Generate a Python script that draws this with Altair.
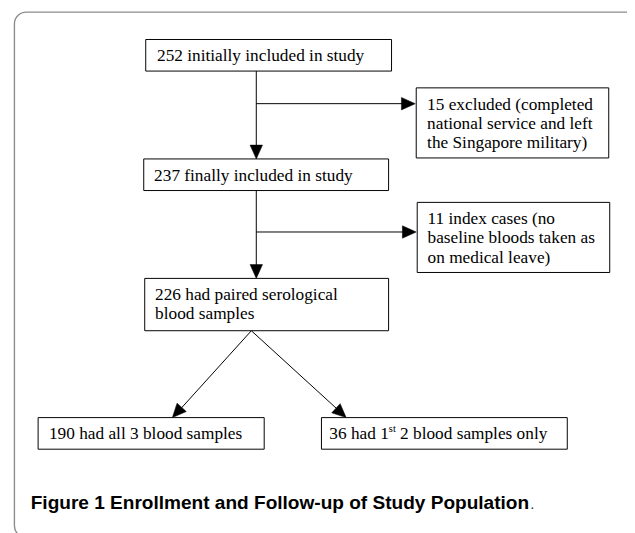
import altair as alt
import pandas as pd

# ---------------- content ----------------
box_lines = [
    ["252 initially included in study"],
    ["15 excluded (completed", "national service and left", "the Singapore military)"],
    ["237 finally included in study"],
    ["11 index cases (no", "baseline bloods taken as", "on medical leave)"],
    ["226 had paired serological", "blood samples"],
    ["190 had all 3 blood samples"],
]
last_box_parts = ["36 had 1", "st", "2 blood samples only"]
caption_bold = "Figure 1 Enrollment and Follow-up of Study Population"
caption_end = "."

# ---------------- layout (page pixels) ----------------
box_left = [147, 421, 145, 422, 146, 38, 325]
box_right = [396, 616, 393, 617, 393, 267, 574]
box_top = [36, 85, 157, 201, 278, 419, 419]
box_bottom = [68, 156, 189, 272, 331, 451, 451]
text_pad = [12, 11.5, 11, 11, 11, 11.5, 8.5]
first_baseline = 22.5
line_step = 19.5

# connectors: (x1, y1, x2, y2)
seg_x1 = [259, 259, 259, 259, 254, 254]
seg_y1 = [68, 101, 189, 231, 331, 331]
seg_x2 = [259, 414, 259, 415, 178, 346]
seg_y2 = [152, 101, 273, 231, 415, 415]
# arrow heads: tip and direction (degrees, clockwise from +x)
tip_x = [259, 420, 259, 421, 174, 350]
tip_y = [157, 101, 278, 231, 419, 419]
tip_angle = [90, 0, 90, 0, 132.3, 42.5]

serif = "Liberation Serif, Times New Roman, Times, serif"
fs = 17.5
sup_fs = 10.5
w_part1 = 3.444 * fs          # advance of "36 had 1"
w_sup = 0.667 * sup_fs        # advance of "st"
w_space = 0.25 * fs

# ---------------- tables ----------------
frame_df = pd.DataFrame({"x": [14.5], "x2": [700], "y": [8.8], "y2": [541]})
box_df = pd.DataFrame({
    "x": [v + 0.5 for v in box_left], "x2": [v + 0.5 for v in box_right],
    "y": [v + 0.5 for v in box_top], "y2": [v + 0.5 for v in box_bottom],
})
seg_df = pd.DataFrame({
    "x": [v + 0.5 for v in seg_x1], "y": [v + 0.5 for v in seg_y1],
    "x2": [v + 0.5 for v in seg_x2], "y2": [v + 0.5 for v in seg_y2],
})
tip_df = pd.DataFrame({"x": [v + 0.5 for v in tip_x], "y": [v + 0.5 for v in tip_y],
                       "angle": tip_angle})

rows = []
for i, lines in enumerate(box_lines):
    for j, t in enumerate(lines):
        rows.append({"x": box_left[i] + text_pad[i],
                     "y": box_top[i] + first_baseline + j * line_step,
                     "text": t})
k = len(box_lines)
base_y = box_top[k] + first_baseline
x0 = box_left[k] + text_pad[k]
rows.append({"x": x0, "y": base_y, "text": last_box_parts[0]})
rows.append({"x": x0 + w_part1 + w_sup + w_space, "y": base_y, "text": last_box_parts[2]})
text_df = pd.DataFrame(rows)
sup_df = pd.DataFrame({"x": [x0 + w_part1], "y": [base_y - 7], "text": [last_box_parts[1]]})

cap_df = pd.DataFrame({"x": [31], "y": [512], "text": [caption_bold]})
dot_df = pd.DataFrame({"x": [537], "y": [512], "text": [caption_end]})

# ---------------- scales ----------------
xs = alt.Scale(domain=[8, 635], nice=False, zero=False)
ys = alt.Scale(domain=[533, 8], nice=False, zero=False)
X = lambda f="x": alt.X(f + ":Q", scale=xs, axis=None)
Y = lambda f="y": alt.Y(f + ":Q", scale=ys, axis=None)

frame = alt.Chart(frame_df).mark_rect(
    fillOpacity=0, stroke="#8c8c8c", strokeWidth=1.4, cornerRadius=12
).encode(x=X(), x2="x2:Q", y=Y(), y2="y2:Q")

boxes = alt.Chart(box_df).mark_rect(
    fill="white", stroke="black", strokeWidth=1
).encode(x=X(), x2="x2:Q", y=Y(), y2="y2:Q")

segs = alt.Chart(seg_df).mark_rule(color="black", strokeWidth=1).encode(
    x=X(), y=Y(), x2="x2:Q", y2="y2:Q")

arrow_path = "M0,0L-2,-0.9L-2,0.9Z"
heads = alt.Chart(tip_df).mark_point(
    shape=arrow_path, filled=True, fill="black", stroke="black", strokeWidth=0.5,
    opacity=1, size=196
).encode(x=X(), y=Y(), angle=alt.Angle("angle:Q", scale=None))

texts = alt.Chart(text_df).mark_text(
    align="left", baseline="alphabetic", font=serif, fontSize=fs, color="black"
).encode(x=X(), y=Y(), text="text:N")

sup = alt.Chart(sup_df).mark_text(
    align="left", baseline="alphabetic", font=serif, fontSize=sup_fs, color="black"
).encode(x=X(), y=Y(), text="text:N")

cap = alt.Chart(cap_df).mark_text(
    align="left", baseline="alphabetic", font="Liberation Sans", fontSize=19.3,
    fontWeight="bold", color="black"
).encode(x=X(), y=Y(), text="text:N")

dot = alt.Chart(dot_df).mark_text(
    align="left", baseline="alphabetic", font="Liberation Sans", fontSize=15,
    color="#333333"
).encode(x=X(), y=Y(), text="text:N")

chart = alt.layer(frame, segs, heads, boxes, texts, sup, cap, dot).properties(
    width=627, height=525, padding=0, autosize=alt.AutoSizeParams(type="none"),
    background="white"
).configure_view(stroke=None)

chart.save("out.html", embed_options={"renderer": "svg", "actions": False})
